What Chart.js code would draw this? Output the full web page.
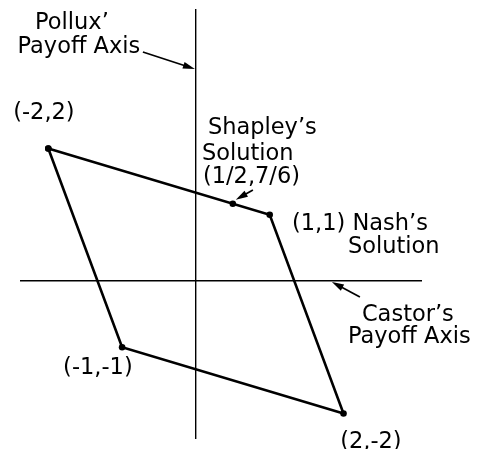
<!DOCTYPE html>
<html>
<head>
<meta charset="utf-8">
<script src="https://cdn.jsdelivr.net/npm/chart.js@4/dist/chart.umd.min.js"></script>
<style>
html, body { margin: 0; padding: 0; background: #fff; }
#box { width: 477px; height: 449px; }
</style>
</head>
<body>
<div id="box"><canvas id="gameChart"></canvas></div>
<script>
// payoff region corners (Castor, Pollux), closed back to the first one
var castorPayoff = [-2, 1, 2, -1, -2];
var polluxPayoff = [2, 1, -2, -1, 2];
var cornerLabels = ["(-2,2)", "(1,1)", "(2,-2)", "(-1,-1)"];

// Shapley's solution on the upper edge
var shapleyCastor = [1 / 2];
var shapleyPollux = [7 / 6];
var shapleyLabel = "(1/2,7/6)";

var regionPoints = [];
for (var i = 0; i < castorPayoff.length; i++)
{
    regionPoints.push({x: castorPayoff[i], y: polluxPayoff[i]});
}
var shapleyPoints = [];
for (var j = 0; j < shapleyCastor.length; j++)
{
    shapleyPoints.push({x: shapleyCastor[j], y: shapleyPollux[j]});
}

function arrow(ctx, x1, y1, x2, y2)
{
    var a = Math.atan2(y2 - y1, x2 - x1);
    ctx.beginPath();
    ctx.moveTo(x1, y1);
    ctx.lineTo(x2 - 8 * Math.cos(a), y2 - 8 * Math.sin(a));
    ctx.lineWidth = 1.7;
    ctx.stroke();
    ctx.beginPath();
    ctx.moveTo(x2, y2);
    ctx.lineTo(x2 - 12 * Math.cos(a) + 3.5 * Math.sin(a), y2 - 12 * Math.sin(a) - 3.5 * Math.cos(a));
    ctx.lineTo(x2 - 12 * Math.cos(a) - 3.5 * Math.sin(a), y2 - 12 * Math.sin(a) + 3.5 * Math.cos(a));
    ctx.closePath();
    ctx.fill();
}

var notes = {
    id: "notes",
    afterDatasetsDraw: function (chart) {
        var ctx = chart.ctx;
        var sx = chart.scales.x, sy = chart.scales.y;
        var ox = sx.getPixelForValue(0), oy = sy.getPixelForValue(0);
        ctx.save();
        ctx.fillStyle = "#000";
        ctx.strokeStyle = "#000";
        ctx.font = "22.5px 'DejaVu Sans', sans-serif";
        ctx.textBaseline = "alphabetic";

        function text(s, dx, dy, align)
        {
            ctx.textAlign = align;
            ctx.fillText(s, ox + dx, oy + dy);
        }

        // axis names
        text("Pollux\u2019", -124, -252, "center");
        text("Payoff Axis", -117, -228, "center");
        arrow(ctx, ox - 53, oy - 229, ox - 1, oy - 212);
        text("Castor\u2019s", 166, 40, "left");
        text("Payoff Axis", 152, 62, "left");
        arrow(ctx, ox + 164, oy + 16, ox + 136, oy + 1);

        // corners
        text(cornerLabels[0], -152, -162, "center");
        text(cornerLabels[1] + " Nash\u2019s", 96, -51, "left");
        text("Solution", 152, -28, "left");
        text(cornerLabels[2], 175, 167, "center");
        text(cornerLabels[3], -98, 93, "center");

        // Shapley's solution
        text("Shapley\u2019s", 12, -147, "left");
        text("Solution", 6, -121, "left");
        text(shapleyLabel, 7, -98, "left");
        var spx = sx.getPixelForValue(shapleyCastor[0]);
        var spy = sy.getPixelForValue(shapleyPollux[0]);
        arrow(ctx, ox + 57, oy - 91, spx + 3, spy - 4);
        ctx.restore();
    }
};

new Chart(document.getElementById("gameChart"), {
    type: "scatter",
    data: {
        datasets: [
        {
            label: "payoff region",
            data: regionPoints,
            showLine: true,
            borderColor: "#000",
            backgroundColor: "#000",
            borderWidth: 2.6,
            pointRadius: 3.3,
            pointBorderWidth: 0,
            fill: false
        },
        {
            label: "Shapley",
            data: shapleyPoints,
            borderColor: "#000",
            backgroundColor: "#000",
            pointRadius: 3.3,
            pointBorderWidth: 0
        }]
    },
    plugins: [notes],
    options: {
        responsive: true,
        maintainAspectRatio: false,
        animation: false,
        layout: {
            padding: {left: 21, right: 56, top: 10, bottom: 11}
        },
        plugins: {
            legend: { display: false },
            tooltip: { enabled: false }
        },
        scales: {
            x: {
                type: "linear",
                min: -2.37,
                max: 3.05,
                position: {y: 0},
                grid: { display: false },
                ticks: { display: false },
                border: { display: true, color: "#000", width: 1.4 }
            },
            y: {
                type: "linear",
                min: -2.37,
                max: 4.09,
                position: {x: 0},
                grid: { display: false },
                ticks: { display: false },
                border: { display: true, color: "#000", width: 1.4 }
            }
        }
    }
});
</script>
</body>
</html>
